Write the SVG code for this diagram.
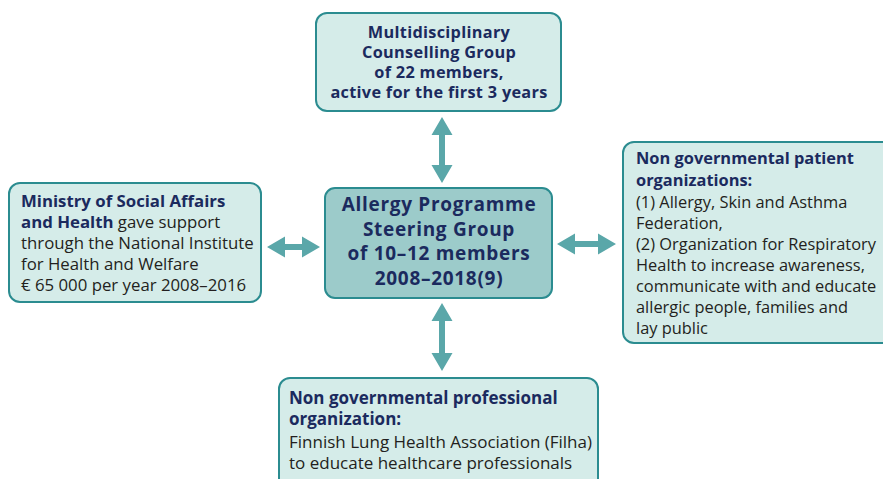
<svg xmlns="http://www.w3.org/2000/svg" width="883" height="479" viewBox="0 0 883 479">
<style>
.box{fill:#d5ece9;stroke:#2b8c90;stroke-width:2}
.main{fill:#9ccbca;stroke:#2b8c90;stroke-width:2}
.arr{fill:#5aa7a9}
text{font-family:"Open Sans","Noto Sans",sans-serif}
.h{font-weight:bold;fill:#1b2a5e}
.t{fill:#231f20}
</style>
<rect width="883" height="479" fill="#ffffff"/>
<g id="connectors">
<path class="arr" d="M442 117 L452.5 135 L445 135 L445 165 L452.5 165 L442 183 L431.5 165 L439 165 L439 135 L431.5 135 Z"/>
<path class="arr" d="M442 303 L452.5 321 L445 321 L445 353 L452.5 353 L442 371 L431.5 353 L439 353 L439 321 L431.5 321 Z"/>
<path class="arr" d="M267 247 L285 236.5 L285 244 L302 244 L302 236.5 L320 247 L302 257.5 L302 250 L285 250 L285 257.5 Z"/>
<path class="arr" d="M557 244 L575 233.5 L575 241 L598 241 L598 233.5 L616 244 L598 254.5 L598 247 L575 247 L575 254.5 Z"/>
</g>
<g id="top" font-size="16.3" letter-spacing="0.3" text-anchor="middle">
<rect class="box" x="316" y="13" width="245" height="98" rx="11"/>
<text x="439" y="38" class="h">Multidisciplinary</text>
<text x="439" y="58" class="h">Counselling Group</text>
<text x="439" y="78" class="h">of 22 members,</text>
<text x="439" y="98" class="h">active for the first 3 years</text>
</g>
<g id="center" font-size="19" letter-spacing="0.7" text-anchor="middle">
<rect class="main" x="325" y="188" width="227" height="110" rx="10"/>
<text x="439" y="211" class="h">Allergy Programme</text>
<text x="439" y="235.6" class="h">Steering Group</text>
<text x="439" y="260.2" class="h">of 10–12 members</text>
<text x="439" y="284.8" class="h">2008–2018(9)</text>
</g>
<g id="left" font-size="16.8">
<rect class="box" x="9" y="183" width="252" height="119" rx="11"/>
<text x="21" y="207" class="h">Ministry of Social Affairs</text>
<text x="21" y="228"><tspan class="h">and Health</tspan><tspan class="t"> gave support</tspan></text>
<text x="21" y="249" class="t">through the National Institute</text>
<text x="21" y="270" class="t">for Health and Welfare</text>
<text x="21" y="291" class="t">€ 65 000 per year 2008–2016</text>
</g>
<g id="right" font-size="16.4">
<rect class="box" x="623" y="142" width="275" height="201" rx="11"/>
<text x="636" y="164" class="h">Non governmental patient</text>
<text x="636" y="186" class="h">organizations:</text>
<text x="636" y="208" class="t">(1) Allergy, Skin and Asthma</text>
<text x="636" y="229" class="t">Federation,</text>
<text x="636" y="250" class="t">(2) Organization for Respiratory</text>
<text x="636" y="271" class="t">Health to increase awareness,</text>
<text x="636" y="292" class="t">communicate with and educate</text>
<text x="636" y="313" class="t">allergic people, families and</text>
<text x="636" y="334" class="t">lay public</text>
</g>
<g id="bottom" font-size="17">
<rect class="box" x="279" y="378" width="319" height="115" rx="11"/>
<text x="289" y="404" class="h">Non governmental professional</text>
<text x="289" y="425" class="h">organization:</text>
<text x="289" y="448" class="t">Finnish Lung Health Association (Filha)</text>
<text x="289" y="469" class="t">to educate healthcare professionals</text>
</g>
</svg>
